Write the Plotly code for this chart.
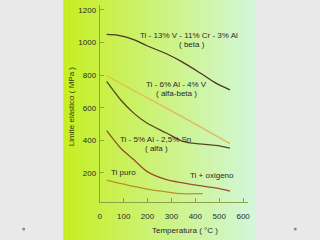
import plotly.graph_objects as go

# Data (Temperature °C, yield strength MPa)
beta_T = [29, 73, 142, 197, 279, 341, 417, 486, 545]
beta_S = [1050, 1045, 1018, 980, 931, 884, 816, 751, 710]

ab_T = [29, 142, 279, 417, 545]
ab_S = [796, 706, 598, 486, 380]

alfa_T = [29, 87, 142, 197, 279, 348, 417, 486, 545]
alfa_S = [761, 649, 567, 506, 445, 394, 378, 369, 353]

oxi_T = [29, 87, 142, 197, 279, 348, 417, 486, 545]
oxi_S = [459, 353, 282, 210, 159, 139, 122, 108, 88]

puro_T = [29, 142, 211, 279, 341, 431]
puro_S = [155, 118, 98, 84, 73, 73]

x_ticks = [0, 100, 200, 300, 400, 500, 600]
y_ticks = [200, 400, 600, 800, 1000, 1200]

FONT = "Liberation Sans, Arial, sans-serif"

fig = go.Figure()

series = [
    (beta_T, beta_S, "#4a3820"),
    (ab_T, ab_S, "#e2b85a"),
    (alfa_T, alfa_S, "#5a4622"),
    (oxi_T, oxi_S, "#9a4e30"),
    (puro_T, puro_S, "#b8902e"),
]
for t, s, c in series:
    fig.add_trace(go.Scatter(x=t, y=s, mode="lines",
                             line=dict(color=c, width=1.3, shape="spline", smoothing=0.8),
                             hoverinfo="skip", showlegend=False))

# gradient panel
shapes = []
x0p, x1p = 62 / 320, 256 / 320
n = 48
c0 = (0xc6, 0xee, 0x22)
c1 = (0xd2, 0xf7, 0xd8)
for i in range(n):
    f = i / (n - 1)
    col = tuple(int(round(c0[k] + (c1[k] - c0[k]) * f)) for k in range(3))
    xa = x0p + (x1p - x0p) * i / n
    xb = x0p + (x1p - x0p) * (i + 1) / n + 0.001
    shapes.append(dict(type="rect", xref="paper", yref="paper", x0=xa, x1=min(xb, x1p),
                       y0=0, y1=1, fillcolor="rgb(%d,%d,%d)" % col, line=dict(width=0),
                       layer="below"))
# slide dots
for cx in (22 / 320, 297 / 320):
    shapes.append(dict(type="circle", xref="paper", yref="paper",
                       x0=cx - 1.5 / 320, x1=cx + 1.5 / 320,
                       y0=(240 - 229 - 1.5) / 240, y1=(240 - 229 + 1.5) / 240,
                       fillcolor="#8a8a8a", line=dict(width=0)))

def ann(x, y, text, **kw):
    d = dict(x=x, y=y, text=text, showarrow=False, xanchor="center", yanchor="middle",
             font=dict(family=FONT, size=8, color="#2a2a2a"))
    d.update(kw)
    return d

annotations = [
    ann(374, 1040, "Ti - 13% V - 11% Cr - 3% Al"),
    ann(384, 985, "( beta )"),
    ann(322, 745, "Ti - 6% Al - 4% V"),
    ann(322, 688, "( alfa-beta )"),
    ann(232, 407, "Ti - 5% Al - 2,5% Sn"),
    ann(236, 350, "( alfa )"),
    ann(100, 202, "Ti puro"),
    ann(470, 184, "Ti + oxigeno"),
    dict(x=70 / 320, y=(240 - 107) / 240, xref="paper", yref="paper", text="Limite elástico ( MPa )",
         xanchor="center", yanchor="middle",
         showarrow=False, textangle=-90, font=dict(family=FONT, size=8, color="#2e3a10")),
    dict(x=185 / 320, y=(240 - 230) / 240, xref="paper", yref="paper", text="Temperatura ( °C )",
         xanchor="center", yanchor="middle",
         showarrow=False, font=dict(family=FONT, size=8, color="#2a2a2a")),
]

axcol = "#8ea24a"
fig.update_layout(
    width=320, height=240,
    margin=dict(l=0, r=0, t=0, b=0),
    paper_bgcolor="#e9e9e9",
    plot_bgcolor="rgba(0,0,0,0)",
    shapes=shapes,
    annotations=annotations,
    font=dict(family=FONT, size=8, color="#2a2a2a"),
    xaxis=dict(domain=[99 / 320, 249 / 320], range=[0, 620], tickvals=x_ticks,
               showgrid=False, zeroline=False, showline=True, linecolor=axcol, linewidth=1,
               ticks="inside", ticklen=4, tickcolor=axcol, ticklabelstandoff=6,
               tickfont=dict(family=FONT, size=8, color="#2a2a2a")),
    yaxis=dict(domain=[(240 - 202) / 240, (240 - 5) / 240], range=[22, 1230], tickvals=y_ticks,
               showgrid=False, zeroline=False, showline=True, linecolor=axcol, linewidth=1,
               ticks="inside", ticklen=4, tickcolor=axcol, ticklabelstandoff=1,
               tickfont=dict(family=FONT, size=8, color="#2a2a2a")),
)

fig.write_html("out.html")
